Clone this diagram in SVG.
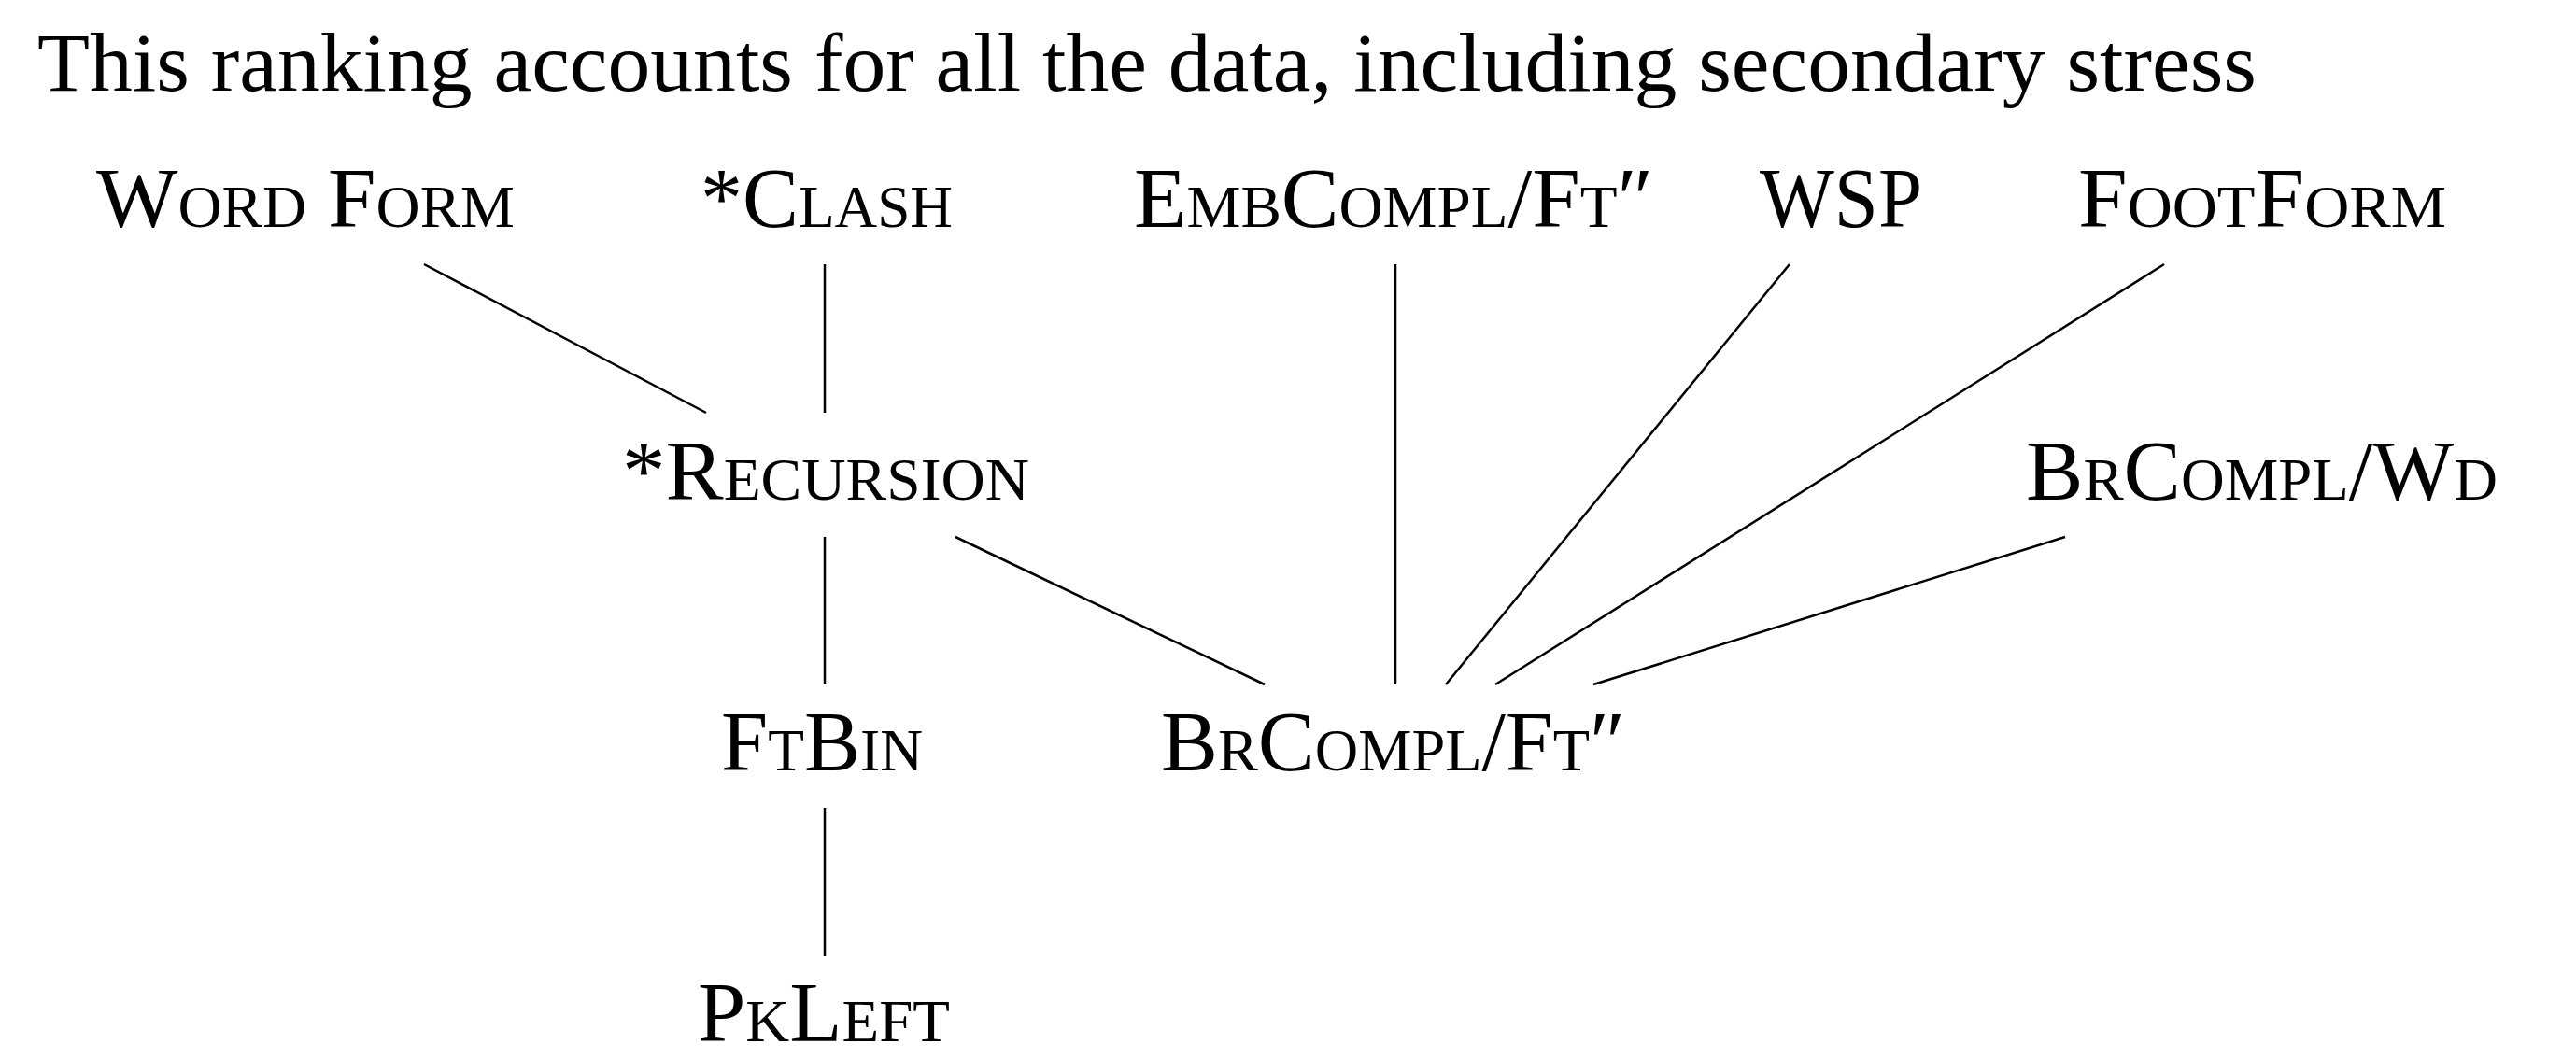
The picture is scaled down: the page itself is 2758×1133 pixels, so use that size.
<svg xmlns="http://www.w3.org/2000/svg" width="2758" height="1133" viewBox="0 0 2758 1133">
<style>
text{font-family:"Liberation Serif","DejaVu Serif",serif;fill:#000}
.t{font-size:88px}
.n{font-size:91px;font-variant:small-caps}
.e line{stroke:#000;stroke-width:2.5;fill:none}
</style>
<rect width="2758" height="1133" fill="#fff"/>
<text id="title" class="t" x="40" y="97" textLength="2376" lengthAdjust="spacingAndGlyphs">This ranking accounts for all the data, including secondary stress</text>
<g id="wordform"><text class="n" x="103" y="243" textLength="448" lengthAdjust="spacingAndGlyphs">Word Form</text></g>
<g id="clash"><text class="n" x="750" y="243" textLength="270" lengthAdjust="spacingAndGlyphs">*Clash</text></g>
<g id="embcompl"><text class="n" x="1214" y="243" textLength="556" lengthAdjust="spacingAndGlyphs">EmbCompl/Ft″</text></g>
<g id="wsp"><text class="n" x="1884" y="243" textLength="174" lengthAdjust="spacingAndGlyphs">WSP</text></g>
<g id="footform"><text class="n" x="2225" y="243" textLength="394" lengthAdjust="spacingAndGlyphs">FootForm</text></g>
<g id="recursion"><text class="n" x="666" y="535" textLength="436" lengthAdjust="spacingAndGlyphs">*Recursion</text></g>
<g id="brcomplwd"><text class="n" x="2169" y="535" textLength="505" lengthAdjust="spacingAndGlyphs">BrCompl/Wd</text></g>
<g id="ftbin"><text class="n" x="772" y="825" textLength="216" lengthAdjust="spacingAndGlyphs">FtBin</text></g>
<g id="brcomplft"><text class="n" x="1243" y="825" textLength="497" lengthAdjust="spacingAndGlyphs">BrCompl/Ft″</text></g>
<g id="pkleft"><text class="n" x="747" y="1115" textLength="270" lengthAdjust="spacingAndGlyphs">PkLeft</text></g>
<g id="edges" class="e">
<line x1="454" y1="283" x2="756" y2="442"/>
<line x1="883" y1="283" x2="883" y2="442"/>
<line x1="883" y1="575" x2="883" y2="733"/>
<line x1="1023" y1="575" x2="1354" y2="733"/>
<line x1="1494" y1="283" x2="1494" y2="733"/>
<line x1="1916" y1="283" x2="1548" y2="733"/>
<line x1="2317" y1="283" x2="1601" y2="733"/>
<line x1="2211" y1="575" x2="1706" y2="733"/>
<line x1="883" y1="865" x2="883" y2="1024"/>
</g>
</svg>
